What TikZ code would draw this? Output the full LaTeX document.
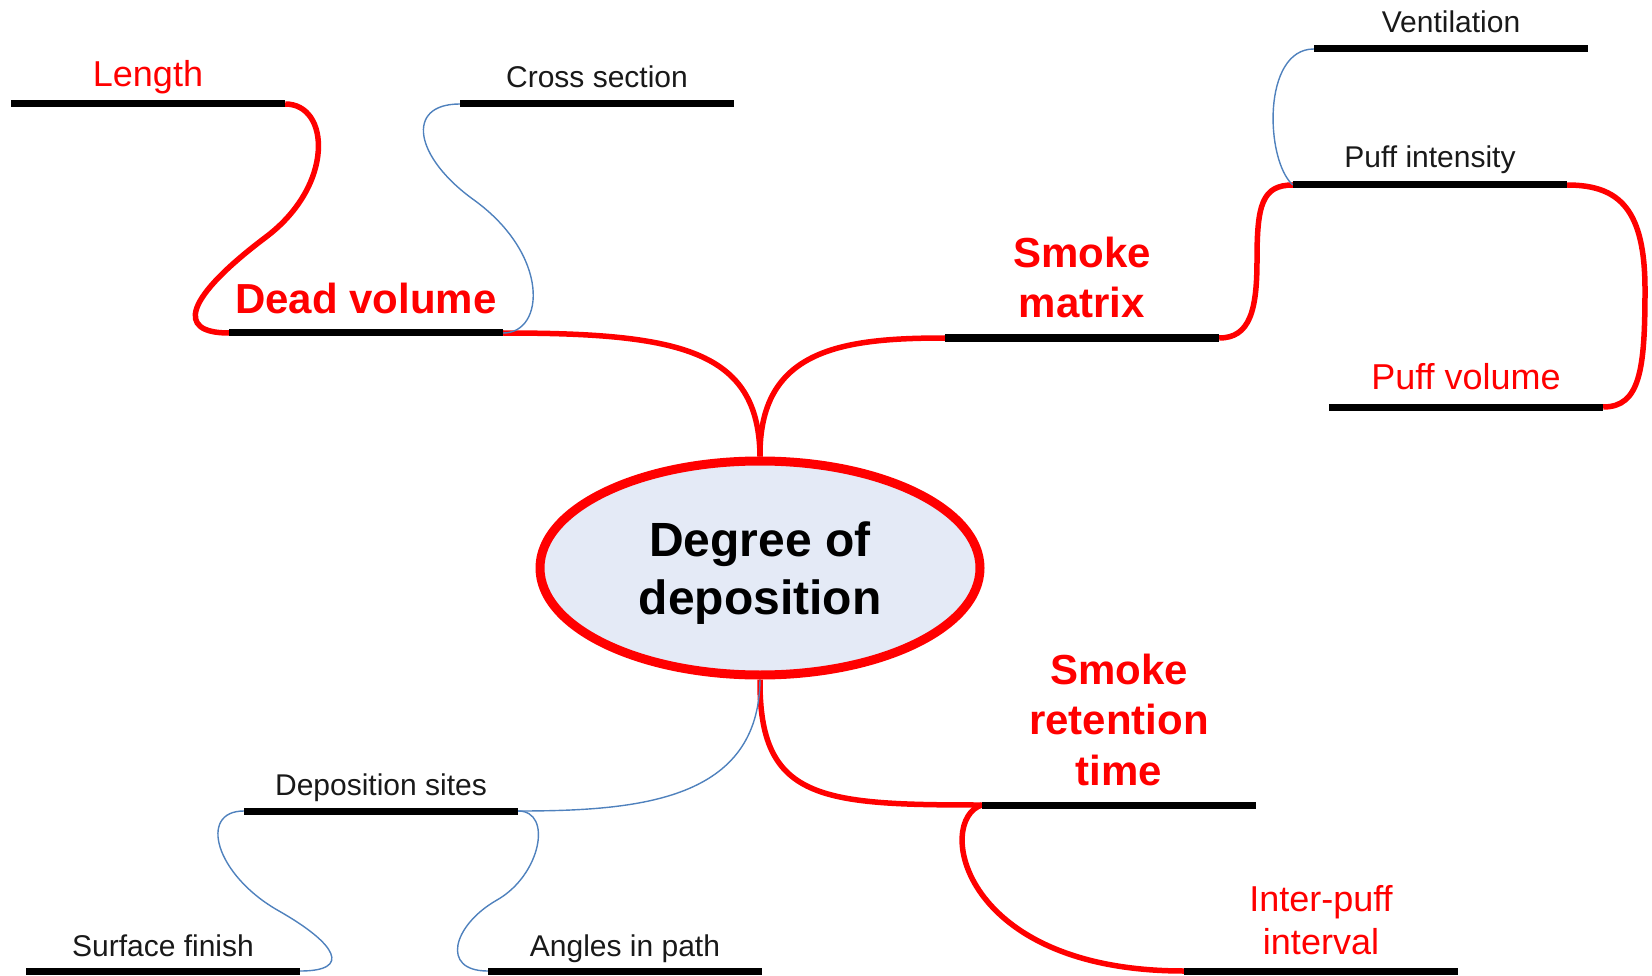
\documentclass[tikz,border=0pt]{standalone}
\usepackage{fontspec}
\setmainfont{Liberation Sans}
\usetikzlibrary{shapes.geometric,backgrounds}
\definecolor{mmred}{RGB}{255,0,0}
\definecolor{mmblue}{RGB}{79,129,189}
\definecolor{mmfill}{RGB}{228,234,246}
\definecolor{mmtext}{RGB}{25,25,25}
\begin{document}
\begin{tikzpicture}[x=1pt,y=-1pt,
  bar/.style={fill=black, inner sep=0pt, minimum width=274pt, minimum height=7pt, draw=none},
  redlink/.style={draw=mmred, line width=5.5pt},
  bluelink/.style={draw=mmblue, line width=1.4pt},
  lblsmall/.style={anchor=base, inner sep=0pt, text=mmtext, font=\fontsize{30}{36}\selectfont},
  lblred/.style={anchor=base, inner sep=0pt, text=mmred, align=center, font=\fontsize{36}{43}\selectfont},
  lblbold/.style={anchor=base, inner sep=0pt, text=mmred, align=center, font=\fontsize{42}{50.5}\selectfont\bfseries},
  hub/.style={ellipse, draw=mmred, line width=9pt, fill=mmfill, inner sep=0pt,
    minimum width=440pt, minimum height=214pt, align=center, text=black,
    font=\fontsize{48}{58}\selectfont\bfseries}
]
\useasboundingbox (0,0) rectangle (1652,976);

% central node
\node[hub] (hub) at (760,568) {\rule{0pt}{44pt}Degree of\\deposition};

% bars
\node[bar] (len)   at (148,104) {};
\node[bar] (cross) at (597,104) {};
\node[bar] (dead)  at (366,333) {};
\node[bar] (smat)  at (1082,338) {};
\node[bar] (vent)  at (1451,49) {};
\node[bar] (pint)  at (1430,185) {};
\node[bar] (pvol)  at (1466,407) {};
\node[bar] (srt)   at (1119,805) {};
\node[bar] (ipi)   at (1321,971) {};
\node[bar] (dsit)  at (381,811) {};
\node[bar] (surf)  at (163,971) {};
\node[bar] (ang)   at (625,971) {};

% labels
\node[lblred]   (tlen)   at ([yshift=17pt]len.center)   {Length};
\node[lblsmall] (tcross) at ([yshift=16pt]cross.center) {Cross section};
\node[lblbold]  (tdead)  at ([yshift=20pt]dead.center)  {Dead volume};
\node[lblbold]  (tsmat)  at ([yshift=20pt]smat.center)  {Smoke\\matrix};
\node[lblsmall] (tvent)  at ([yshift=16pt]vent.center)  {Ventilation};
\node[lblsmall] (tpint)  at ([yshift=17pt]pint.center)  {Puff intensity};
\node[lblred]   (tpvol)  at ([yshift=18pt]pvol.center)  {Puff volume};
\node[lblbold]  (tsrt)   at ([yshift=20pt]srt.center)   {Smoke\\retention\\time};
\node[lblred]   (tipi)   at ([yshift=17pt]ipi.center)   {Inter-puff\\interval};
\node[lblsmall] (tdsit)  at ([yshift=16pt]dsit.center)  {Deposition sites};
\node[lblsmall] (tsurf)  at ([yshift=15pt]surf.center)  {Surface finish};
\node[lblsmall] (tang)   at ([yshift=15pt]ang.center)   {Angles in path};

% connectors
\begin{scope}[on background layer]
  \draw[redlink] (hub.north) .. controls (759,350) and (680,333) .. (dead.east);
  \draw[redlink] (hub.north) .. controls (759,350) and (840,338) .. (smat.west);
  \draw[redlink] (hub.south) .. controls (759,800) and (820,805) .. (srt.west);
  \draw[bluelink] (hub.south) .. controls (759,800) and (640,811) .. (dsit.east);

  \draw[redlink] (len.east) .. controls (330,104) and (335,185) .. (266,237)
                 .. controls (185,298) and (175,333) .. (dead.west);
  \draw[bluelink] (dead.east) .. controls (545,333) and (550,255) .. (474,200)
                 .. controls (414,157) and (405,104) .. (cross.west);

  \draw[redlink] (smat.east) .. controls (1250,338) and (1257,310) .. (1257,260)
                 .. controls (1257,205) and (1262,185) .. (pint.west);
  \draw[bluelink] (pint.west) .. controls (1265,160) and (1262,49) .. (vent.west);
  \draw[redlink] (pint.east) .. controls (1620,185) and (1645,210) .. (1645,290)
                 .. controls (1645,370) and (1640,407) .. (pvol.east);

  \draw[redlink] (srt.west) .. controls (935,820) and (960,971) .. (ipi.west);

  \draw[bluelink] (dsit.west) .. controls (198,811) and (215,875) .. (279,911)
                 .. controls (337,944) and (352,971) .. (surf.east);
  \draw[bluelink] (dsit.east) .. controls (553,811) and (541,875) .. (497,900)
                 .. controls (453,925) and (440,971) .. (ang.west);
\end{scope}
\end{tikzpicture}
\end{document}
